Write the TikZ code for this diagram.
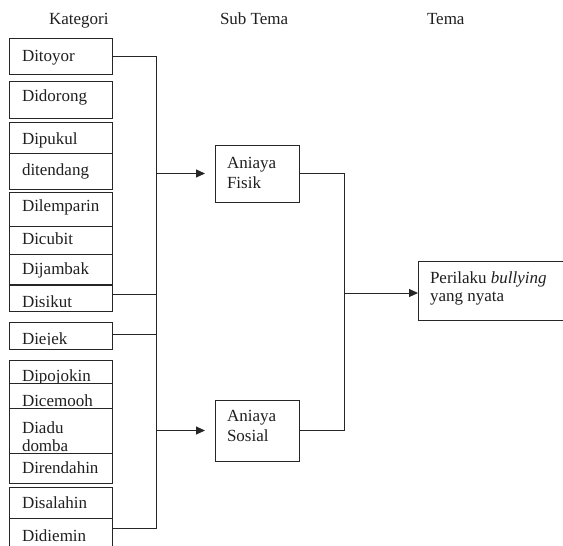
\documentclass[tikz,border=0pt]{standalone}
\usepackage{fontspec}
\setmainfont{Liberation Serif}
\usetikzlibrary{arrows.meta,calc}
\definecolor{lc}{HTML}{262626}
\begin{document}
\begin{tikzpicture}[x=1pt,y=-1pt,
  every node/.style={font=\fontsize{17}{20}\selectfont, text=black!88},
  lbl/.style={anchor=base west,inner sep=0pt,outer sep=0pt},
  cell/.style={draw=lc,line width=1pt,inner sep=0pt,outer sep=0pt,minimum width=103pt},
  theme/.style={draw=lc,line width=1pt,inner sep=0pt,outer sep=0pt},
  wire/.style={draw=lc,line width=1pt},
  arr/.style={wire,-{Triangle[length=9pt,width=8pt]}}]
\useasboundingbox (0,0) rectangle (563,546);

% headers
\node[lbl] (h1) at (49,24) {Kategori};
\node[lbl] (h2) at (220,24) {Sub Tema};
\node[lbl] (h3) at (427,24) {Tema};

% category texts
\node[lbl] (t1) at (22,61) {Ditoyor};
\node[lbl] (t2) at (22,101) {Didorong};
\node[lbl] (t3) at (22,144.5) {Dipukul};
\node[lbl] (t4) at (22,175) {ditendang};
\node[lbl] (t5) at (22,211) {Dilemparin};
\node[lbl] (t6) at (22,244.5) {Dicubit};
\node[lbl] (t7) at (22,274.5) {Dijambak};
\begin{scope}
  \clip (9,285) rectangle (112,306.3);
  \node[lbl] (t8) at (22,307) {Disikut};
\end{scope}
\begin{scope}
  \clip (9,322) rectangle (112,344.6);
  \node[lbl] (t9) at (22,344.5) {Diejek};
\end{scope}
\begin{scope}
  \clip (9,360) rectangle (112,383);
  \node[lbl] (t10) at (22,381) {Dipojokin};
\end{scope}
\begin{scope}
  \clip (9,383) rectangle (112,408);
  \node[lbl] (t11) at (22,406.5) {Dicemooh};
\end{scope}
\begin{scope}
  \clip (9,408) rectangle (112,453);
  \node[lbl] (t12) at (22,433) {Diadu};
  \node[lbl] (t13) at (22,451) {domba};
\end{scope}
\node[lbl] (t14) at (22,473) {Direndahin};
\node[lbl] (t15) at (22,508) {Disalahin};
\node[lbl] (t16) at (22,541) {Didiemin};

% category boxes
\node[cell,minimum height=36pt] (ditoyor) at (60.5,56) {};
\node[cell,minimum height=37pt] (didorong) at (60.5,99.5) {};
\node[cell,minimum height=31pt] (dipukul) at (60.5,137.5) {};
\node[cell,minimum height=36pt] (ditendang) at (60.5,171) {};
\node[cell,minimum height=34pt] (dilemparin) at (60.5,209) {};
\node[cell,minimum height=28pt] (dicubit) at (60.5,240) {};
\node[cell,minimum height=30pt] (dijambak) at (60.5,269) {};
\node[cell,minimum height=26pt] (disikut) at (60.5,298) {};
\node[cell,minimum height=27pt] (diejek) at (60.5,335.5) {};
\node[cell,minimum height=23pt] (dipojokin) at (60.5,371.5) {};
\node[cell,minimum height=25pt] (dicemooh) at (60.5,395.5) {};
\node[cell,minimum height=45pt] (diadu) at (60.5,430.5) {};
\node[cell,minimum height=30pt] (direndahin) at (60.5,468) {};
\node[cell,minimum height=31pt] (disalahin) at (60.5,502.5) {};
\node[cell,minimum height=42pt] (didiemin) at (60.5,539) {};

% sub themes
\node[theme,minimum width=84pt,minimum height=57pt] (fisik) at (257,173.5) {};
\node[lbl] (f1) at (227,168) {Aniaya};
\node[lbl] (f2) at (227,188) {Fisik};
\node[theme,minimum width=84pt,minimum height=61pt] (sosial) at (257,430.5) {};
\node[lbl] (s1) at (227,421) {Aniaya};
\node[lbl] (s2) at (227,441) {Sosial};

% theme
\node[theme,minimum width=148pt,minimum height=59pt] (perilaku) at (492,290.5) {};
\node[lbl] (p1) at (430,283) {Perilaku \textit{bullying}};
\node[lbl] (p2) at (430,301) {yang nyata};

% connectors
\coordinate (bus) at (156.5,0);
\coordinate (c1) at ($(disikut.north east)+(0,9)$);
\coordinate (c2) at ($(diejek.north east)+(0,12)$);
\coordinate (c3) at ($(didiemin.north east)+(0,10)$);
\draw[wire] (ditoyor.east) -- (ditoyor.east -| bus) -- (c3 -| bus) -- (c3);
\draw[wire] (c1) -- (c1 -| bus);
\draw[wire] (c2) -- (c2 -| bus);
\draw[arr] (fisik.west -| bus) -- ($(fisik.west)+(-10,0)$);
\draw[arr] (sosial.west -| bus) -- ($(sosial.west)+(-10,0)$);
\coordinate (join) at (344,293);
\draw[wire] (fisik.east) -- (fisik.east -| join) -- (sosial.east -| join) -- (sosial.east);
\draw[arr] (join) -- (perilaku.west |- join);
\end{tikzpicture}
\end{document}
